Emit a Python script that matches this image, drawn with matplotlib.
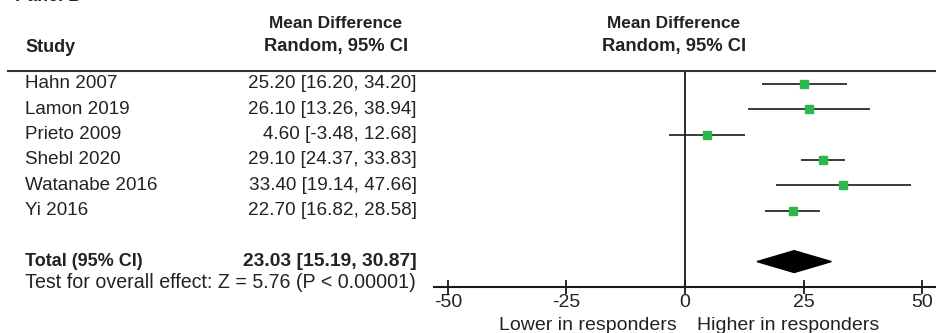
import matplotlib.pyplot as plt
from matplotlib.patches import Polygon
from matplotlib.transforms import blended_transform_factory

plt.rcParams['font.family'] = ['Liberation Sans', 'DejaVu Sans']

studies = ['Hahn 2007', 'Lamon 2019', 'Prieto 2009', 'Shebl 2020', 'Watanabe 2016', 'Yi 2016']
md = [25.20, 26.10, 4.60, 29.10, 33.40, 22.70]
lo = [16.20, 13.26, -3.48, 24.37, 19.14, 16.82]
hi = [34.20, 38.94, 12.68, 33.83, 47.66, 28.58]
total_md, total_lo, total_hi = 23.03, 15.19, 30.87
ticks = [-50, -25, 0, 25, 50]

W, H = 937, 333
txt = '#222222'
green = '#2db84b'
fs = 13.6

fig = plt.figure(figsize=(W / 100, H / 100), dpi=100)
ax = fig.add_axes([434 / W, 1 - 287 / H, 1 - 434 / W, (287 - 71) / H])
ax.set_xlim(-52.95, 53.16)
ax.set_ylim(8.0, -0.5)

rows = list(range(len(studies)))
total_row = 7

# confidence intervals and point estimates
for y, m, l, h in zip(rows, md, lo, hi):
    ax.plot([l, h], [y, y], color='#1a1a1a', lw=1.2, solid_capstyle='butt', zorder=2)
    ax.plot(m, y, marker='s', ms=6, color=green, mec=green, zorder=3)

# pooled diamond
dh = 0.43
ax.add_patch(Polygon([[total_lo, total_row], [total_md, total_row - dh],
                      [total_hi, total_row], [total_md, total_row + dh]],
                     closed=True, color='black', zorder=3))

ax.axvline(0, color='#1a1a1a', lw=1.3, zorder=1)

for s in ['top', 'left', 'right']:
    ax.spines[s].set_visible(False)
ax.spines['bottom'].set_linewidth(1.5)
ax.spines['bottom'].set_color('#1a1a1a')
ax.set_yticks([])
ax.set_xticks(ticks)
ax.set_xticklabels([str(t) for t in ticks])
ax.tick_params(axis='x', direction='inout', length=10, width=1.3, color='#1a1a1a',
               labelsize=14, labelcolor=txt, pad=0)

# table text
tr = blended_transform_factory(fig.transFigure, ax.transData)
top_line_y = -0.5
ax.plot([8 / W, 1.0], [top_line_y, top_line_y], transform=tr, color='#333333',
        lw=1.5, clip_on=False)

x_name = 25 / W
x_val = 417 / W
for y, name, m, l, h in zip(rows, studies, md, lo, hi):
    ax.text(x_name, y, name, transform=tr, ha='left', va='center', fontsize=fs, color=txt)
    ax.text(x_val, y, f'{m:.2f} [{l:.2f}, {h:.2f}]', transform=tr, ha='right',
            va='center', fontsize=fs, color=txt)

ax.text(x_name, total_row, 'Total (95% CI)', transform=tr, ha='left', va='center',
        fontsize=fs - 0.6, color=txt, fontweight='bold')
ax.text(x_val, total_row, f'{total_md:.2f} [{total_lo:.2f}, {total_hi:.2f}]',
        transform=tr, ha='right', va='center', fontsize=13.9, color=txt, fontweight='bold')
ax.text(x_name, 7.83, 'Test for overall effect: Z = 5.76 (P < 0.00001)', transform=tr,
        ha='left', va='center', fontsize=14.1, color=txt)

# headers
fig.text(15 / W, 1 - 1 / H, 'Panel B', ha='left', va='baseline', fontsize=13,
         fontweight='bold', color=txt)
fig.text(x_name, 1 - 47 / H, 'Study', ha='left', va='center', fontsize=13,
         fontweight='bold', color=txt)
for xc in [336 / W, 674 / W]:
    fig.text(xc, 1 - 23 / H, 'Mean Difference', ha='center', va='center', fontsize=12.4,
             fontweight='bold', color=txt)
    fig.text(xc, 1 - 47 / H, 'Random, 95% CI', ha='center', va='center', fontsize=13.2,
             fontweight='bold', color=txt)

fig.text(677 / W, 1 - 325 / H, 'Lower in responders', ha='right', va='center',
         fontsize=14, color=txt)
fig.text(697 / W, 1 - 325 / H, 'Higher in responders', ha='left', va='center',
         fontsize=14, color=txt)

fig.savefig('out.png', dpi=100)
